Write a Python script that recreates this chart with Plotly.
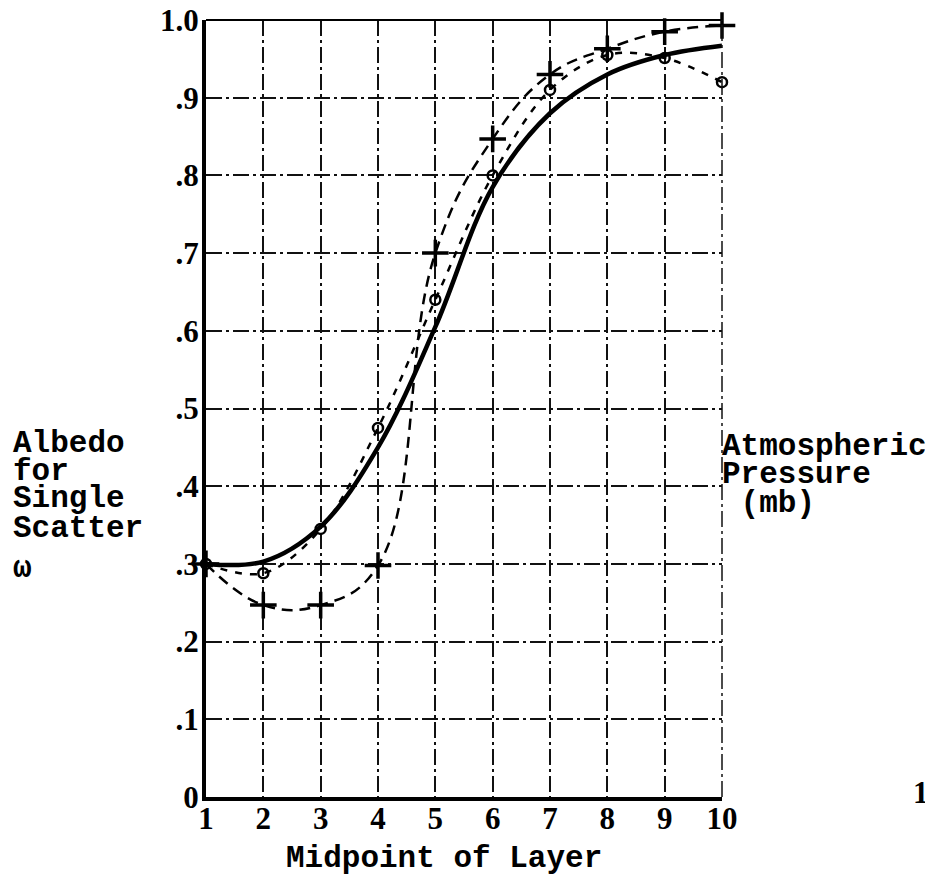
import plotly.graph_objects as go

# ---- data ----
layers = [1, 2, 3, 4, 5, 6, 7, 8, 9, 10]
albedo_solid = [0.300, 0.303, 0.348, 0.450, 0.605, 0.785, 0.880, 0.930, 0.955, 0.967]
albedo_circle = [0.300, 0.288, 0.345, 0.475, 0.640, 0.800, 0.910, 0.955, 0.951, 0.920]
albedo_plus = [0.300, 0.247, 0.247, 0.298, 0.700, 0.847, 0.930, 0.963, 0.985, 0.993]
y_tick_vals = [0.0, 0.1, 0.2, 0.3, 0.4, 0.5, 0.6, 0.7, 0.8, 0.9, 1.0]
y_tick_text = ["0", ".1", ".2", ".3", ".4", ".5", ".6", ".7", ".8", ".9", "1.0"]
x_tick_text = ["1", "2", "3", "4", "5", "6", "7", "8", "9", "10"]
left_label_lines = ["Albedo", "for", "Single", "Scatter", "ω"]
right_label_lines = ["Atmospheric", "Pressure", " (mb)"]
x_title = "Midpoint of Layer"

# ---- geometry (page pixels of the reference; page has an 8px body margin) ----
OFF = 8
W, H = 933 - OFF, 880 - OFF
L, R, T, B = 206, 722, 20, 797          # plot area in page pixels
LABEL_FONT = "Liberation Mono"
LSIZE = 31


def px_x(p):
    return (p - L) / (R - L)


def px_y(p):
    return (B - p) / (B - T)


fig = go.Figure()

fig.add_trace(go.Scatter(
    x=layers, y=albedo_circle, mode="lines+markers",
    line=dict(color="black", width=2.5, dash="7px,8px", shape="spline"),
    marker=dict(symbol="circle-open", size=10, color="black", line=dict(width=2.5, color="black")),
    cliponaxis=False, hoverinfo="skip"))

fig.add_trace(go.Scatter(
    x=layers, y=albedo_plus, mode="lines+markers",
    line=dict(color="black", width=2.5, dash="11px,7px", shape="spline", smoothing=1.2),
    marker=dict(symbol="cross-thin", size=19, color="black", line=dict(width=3.5, color="black")),
    cliponaxis=False, hoverinfo="skip"))

fig.add_trace(go.Scatter(
    x=layers, y=albedo_solid, mode="lines",
    line=dict(color="black", width=4.5, shape="spline"),
    hoverinfo="skip"))

grid_style = dict(showgrid=True, gridcolor="#111111", gridwidth=1.5,
                  griddash="16px,4px,3px,4px", zeroline=False, automargin=False,
                  ticklabeloverflow="allow")
tick_font = dict(family="Liberation Serif", size=31, color="black", weight="bold")

fig.update_layout(
    template="none",
    width=W, height=H,
    margin=dict(l=L - OFF, r=W - (R - OFF), t=T - OFF, b=H - (B - OFF), autoexpand=False),
    paper_bgcolor="white", plot_bgcolor="white",
    showlegend=False, hovermode=False,
    xaxis=dict(range=[1, 10], tickvals=layers, ticktext=x_tick_text,
               showline=True, linecolor="black", linewidth=4, ticks="",
               tickfont=tick_font, ticklabelstandoff=-9, **grid_style),
    yaxis=dict(range=[0, 1], tickvals=y_tick_vals, ticktext=y_tick_text,
               showline=True, linecolor="black", linewidth=4, ticks="",
               tickfont=tick_font, ticklabelstandoff=-3, **grid_style),
)

# top border (solid) and right border (dash-dot)
fig.add_shape(type="line", xref="x domain", yref="y domain", x0=0, x1=1, y0=1, y1=1,
              line=dict(color="black", width=2))
fig.add_shape(type="line", xref="x domain", yref="y domain", x0=1, x1=1, y0=0, y1=1,
              line=dict(color="#111111", width=1.5, dash="16px,4px,3px,4px"))

label_font = dict(family=LABEL_FONT, size=LSIZE, color="black", weight="bold")
annots = []
left_centers = [443, 471, 499, 528, 568]
for txt, c in zip(left_label_lines, left_centers):
    annots.append(dict(text=txt, xref="paper", yref="paper", x=px_x(11), y=px_y(c),
                       xanchor="left", yanchor="middle", showarrow=False, font=label_font))
right_centers = [446, 474, 503]
for txt, c in zip(right_label_lines, right_centers):
    annots.append(dict(text=txt, xref="paper", yref="paper", x=px_x(720), y=px_y(c),
                       xanchor="left", yanchor="middle", showarrow=False, font=label_font))
annots.append(dict(text=x_title, xref="paper", yref="paper", x=px_x(444), y=px_y(858),
                   xanchor="center", yanchor="middle", showarrow=False, font=label_font))
annots.append(dict(text="100", xref="paper", yref="paper", x=px_x(911), y=px_y(792),
                   xanchor="left", yanchor="middle", showarrow=False, font=tick_font))
fig.update_layout(annotations=annots)

fig.write_html("out.html")
